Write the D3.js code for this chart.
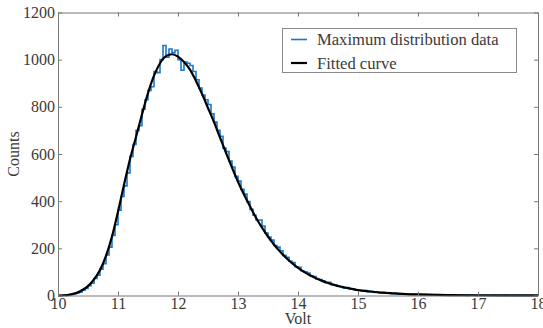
<!DOCTYPE html>
<html><head><meta charset="utf-8">
<script src="https://cdn.jsdelivr.net/npm/d3@7"></script>
<style>
html,body{margin:0;padding:0;background:#fff;}
svg{display:block;font-family:"Liberation Serif","Times New Roman",serif;}
</style></head>
<body><svg id="c" width="543" height="328"></svg>
<script>
// Histogram: bins of 0.05 V starting at 10.00
const binStart = 10.0;
const binWidth = 0.05;
const histCounts = [
0,1,1,3,4,8,11,14,23,30,
42,52,72,86,112,135,172,205,255,300,
362,420,465,520,590,640,700,720,790,830,
870,885,950,945,1000,1060,1010,1045,1030,1040,
1000,955,990,985,975,950,915,880,850,830,
810,770,735,700,675,625,610,570,545,505,
485,450,430,398,365,340,320,320,295,265,
248,235,212,205,190,170,162,145,140,122,
120,105,100,95,84,80,70,68,62,55,
56,46,44,40,37,32,34,28,27,24,
22,20,21,16,18,14,15,11,12,10,
11,8,9,7,6,7,5,6,4,5,
4,3,4,3,2,3,2,2,3,1,
2,1,2,1,1,1,0,1,1,0,
1,0,1,0,0,1,0,0,0,1,
0,0,0,0,0,0,0,0,0,0
];
// Fitted curve samples
const fitVolt = [10.0,10.1,10.2,10.3,10.4,10.5,10.6,10.7,10.8,10.9,11.0,11.1,11.2,11.3,11.4,11.5,11.6,11.7,11.8,11.9,12.0,12.1,12.2,12.3,12.4,12.5,12.6,12.7,12.8,12.9,13.0,13.1,13.2,13.3,13.4,13.5,13.6,13.7,13.8,13.9,14.0,14.1,14.2,14.3,14.4,14.5,14.6,14.7,14.8,14.9,15.0,15.2,15.4,15.6,15.8,16.0,16.5,17.0,17.5,18.0];
const fitCounts = [0,1,4,10,22,40,68,108,168,250,355,470,578,672,768,858,932,985,1015,1023,1013,990,958,910,855,795,735,670,605,542,482,428,378,330,288,250,216,186,160,137,117,100,86,73,62,53,45,38,33,28,23,17,12,9,6,4.5,2,1,0.5,0.2];
const xTicks = [10,11,12,13,14,15,16,17,18];
const yTicks = [0,200,400,600,800,1000,1200];
const seriesNames = ["Maximum distribution data","Fitted curve"];

const svg = d3.select("#c");
const L=58, R=538, T=12.5, B=295.5;
const x = d3.scaleLinear().domain([10,18]).range([L,R]);
const y = d3.scaleLinear().domain([0,1200]).range([B,T]);
const textCol="#3a3a3a", axCol="#777";

// data
const stepPts = [];
histCounts.forEach((c,i)=>{stepPts.push([binStart+i*binWidth,c]);});
stepPts.push([binStart+histCounts.length*binWidth, histCounts[histCounts.length-1]]);
const stepLine = d3.line().x(d=>x(d[0])).y(d=>y(d[1])).curve(d3.curveStepAfter);
svg.append("path").datum(stepPts).attr("d",stepLine)
  .attr("fill","none").attr("stroke","#1a78c8").attr("stroke-width",1.6);

const fitLine = d3.line().x((d,i)=>x(fitVolt[i])).y(d=>y(d)).curve(d3.curveMonotoneX);
svg.append("path").datum(fitCounts).attr("d",fitLine)
  .attr("fill","none").attr("stroke","#000").attr("stroke-width",2.2);

// axes
function styleAxis(g){
  g.select(".domain").attr("stroke",axCol).attr("stroke-width",1);
  g.selectAll(".tick line").attr("stroke",axCol).attr("stroke-width",1);
  g.selectAll("text").attr("fill",textCol).style("font-size","16px").style("font-family","'Liberation Serif', serif");
}
svg.append("g").attr("transform",`translate(0,${B})`)
  .call(d3.axisBottom(x).tickValues(xTicks).tickSize(-4).tickSizeOuter(0).tickPadding(2).tickFormat(d3.format("d")))
  .call(styleAxis);
svg.append("g").attr("transform",`translate(0,${T})`)
  .call(d3.axisTop(x).tickValues(xTicks).tickSize(-4).tickSizeOuter(0).tickFormat(""))
  .call(styleAxis);
svg.append("g").attr("transform",`translate(${L},0)`)
  .call(d3.axisLeft(y).tickValues(yTicks).tickSize(-4).tickSizeOuter(0).tickPadding(3).tickFormat(d3.format("d")))
  .call(styleAxis);
svg.append("g").attr("transform",`translate(${R},0)`)
  .call(d3.axisRight(y).tickValues(yTicks).tickSize(-4).tickSizeOuter(0).tickFormat(""))
  .call(styleAxis);

// axis labels
svg.append("text").attr("x",(L+R)/2).attr("y",324).attr("text-anchor","middle")
  .attr("fill",textCol).style("font-size","16px").text("Volt");
svg.append("text").attr("transform",`translate(19,${(T+B)/2}) rotate(-90)`).attr("text-anchor","middle")
  .attr("fill",textCol).style("font-size","16px").text("Counts");

// legend
const lg = svg.append("g");
lg.append("rect").attr("x",282.5).attr("y",28.5).attr("width",234).attr("height",44)
  .attr("fill","#fff").attr("stroke","#888").attr("stroke-width",1);
const legCols=["#1a78c8","#000"], legW=[1.6,2.2];
seriesNames.forEach((n,i)=>{
  const yy = 39.5 + i*23.5;
  lg.append("line").attr("x1",291).attr("x2",307).attr("y1",yy).attr("y2",yy)
    .attr("stroke",legCols[i]).attr("stroke-width",legW[i]);
  lg.append("text").attr("x",317).attr("y",yy+5.5).attr("fill",textCol)
    .style("font-size","16.6px").text(n);
});
</script></body></html>
